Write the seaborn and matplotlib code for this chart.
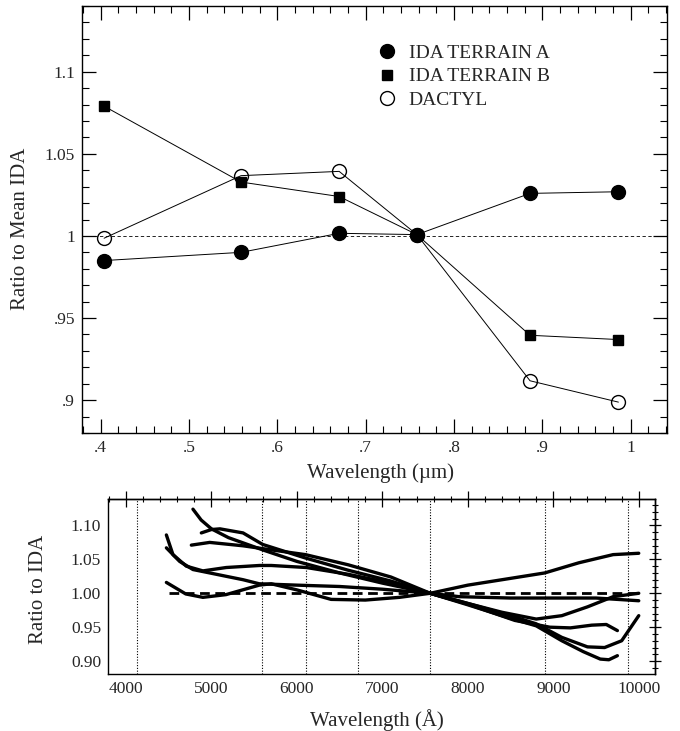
import matplotlib
matplotlib.use("Agg")
import matplotlib.pyplot as plt
from matplotlib.lines import Line2D
from matplotlib.ticker import FixedLocator, MultipleLocator
import seaborn as sns
import pandas as pd

# ---------------- data: top panel ----------------
top_wavelength = [0.404, 0.559, 0.670, 0.758, 0.886, 0.986]
terrain_a = [0.985, 0.990, 1.0016, 1.0008, 1.0259, 1.0269]
terrain_b = [1.079, 1.0328, 1.024, 1.0008, 0.9395, 0.9369]
dactyl = [0.9986, 1.0367, 1.0393, 1.0008, 0.9118, 0.8988]
top_labels = ["IDA TERRAIN A", "IDA TERRAIN B", "DACTYL"]
top_xticks = [0.4, 0.5, 0.6, 0.7, 0.8, 0.9, 1.0]
top_xticklabels = [".4", ".5", ".6", ".7", ".8", ".9", "1"]
top_yticks = [0.9, 0.95, 1.0, 1.05, 1.1]
top_yticklabels = [".9", ".95", "1", "1.05", "1.1"]

# ---------------- data: bottom panel ----------------
c1_w = [4784, 4880, 5000, 5200, 5600, 6000, 6500, 7000, 7560, 8000, 8500, 8800, 9100, 9350, 9550, 9650, 9750]
c1_r = [1.124, 1.108, 1.095, 1.082, 1.064, 1.047, 1.030, 1.015, 1.0, 0.983, 0.963, 0.952, 0.930, 0.914, 0.903, 0.902, 0.908]
c2_w = [4882, 5000, 5100, 5370, 5600, 6100, 6600, 7100, 7560, 8000, 8500, 8800, 9100, 9400, 9600, 9800, 10000]
c2_r = [1.089, 1.094, 1.095, 1.089, 1.072, 1.052, 1.034, 1.018, 1.0, 0.985, 0.967, 0.955, 0.935, 0.921, 0.920, 0.930, 0.967]
c3_w = [4765, 4980, 5370, 5700, 6100, 6600, 7100, 7560, 8000, 8550, 8960, 9200, 9450, 9620, 9750]
c3_r = [1.071, 1.075, 1.070, 1.064, 1.057, 1.042, 1.024, 1.0, 0.984, 0.960, 0.950, 0.949, 0.953, 0.954, 0.945]
c4_w = [4473, 4550, 4706, 4900, 5174, 5564, 5700, 6110, 6600, 7100, 7560, 8000, 8400, 8800, 9100, 9400, 9700, 10000]
c4_r = [1.086, 1.057, 1.040, 1.033, 1.038, 1.041, 1.041, 1.038, 1.028, 1.015, 1.0, 0.985, 0.972, 0.962, 0.967, 0.980, 0.995, 1.0]
c5_w = [4473, 4628, 4784, 4980, 5174, 5370, 5560, 6000, 6500, 7000, 7560, 7900, 8500, 9500, 10000]
c5_r = [1.067, 1.047, 1.035, 1.030, 1.025, 1.020, 1.014, 1.012, 1.010, 1.006, 1.0, 0.995, 0.993, 0.993, 0.989]
c6_w = [4473, 4700, 4900, 5170, 5560, 5700, 6000, 6400, 6800, 7200, 7560, 8000, 8500, 8900, 9300, 9700, 10000]
c6_r = [1.016, 0.999, 0.994, 0.998, 1.012, 1.014, 1.005, 0.991, 0.990, 0.994, 1.0, 1.012, 1.022, 1.030, 1.045, 1.057, 1.059]
ref_w = [4500, 10000]
ref_r = [1.0, 1.0]
filter_w = [4130, 5590, 6110, 6720, 7560, 8900, 9870]
bot_xticks = [4000, 5000, 6000, 7000, 8000, 9000, 10000]
bot_xticklabels = ["4000", "5000", "6000", "7000", "8000", "9000", "10000"]
bot_yticks = [0.90, 0.95, 1.00, 1.05, 1.10]
bot_yticklabels = ["0.90", "0.95", "1.00", "1.05", "1.10"]

# ---------------- style ----------------
sns.set_style("white")
plt.rcParams["font.family"] = ["Liberation Serif", "DejaVu Serif"]
plt.rcParams["axes.edgecolor"] = "black"
plt.rcParams["axes.linewidth"] = 1.0

fig = plt.figure(figsize=(6.8, 7.31), dpi=100)

# ---------------- top panel ----------------
ax1 = fig.add_axes([82 / 680, 1 - 433 / 731, 585 / 680, 427 / 731])
ax1.axhline(1.0, color="black", lw=0.6, ls=(0, (4, 3)))
series = [
    (terrain_a, "o", 10, "black"),
    (terrain_b, "s", 7, "black"),
    (dactyl, "o", 10, "none"),
]
for vals, mk, ms, fc in series:
    df = pd.DataFrame({"w": top_wavelength, "r": vals})
    sns.lineplot(data=df, x="w", y="r", ax=ax1, color="black", lw=0.7,
                 marker=mk, markersize=ms, markerfacecolor=fc,
                 markeredgecolor="black", markeredgewidth=1.0,
                 estimator=None, sort=False)
ax1.set_xlim(0.379, 1.041)
ax1.set_ylim(0.88, 1.14)
ax1.xaxis.set_major_locator(FixedLocator(top_xticks))
ax1.set_xticklabels(top_xticklabels)
ax1.yaxis.set_major_locator(FixedLocator(top_yticks))
ax1.set_yticklabels(top_yticklabels)
ax1.xaxis.set_minor_locator(MultipleLocator(0.02))
ax1.yaxis.set_minor_locator(MultipleLocator(0.01))
ax1.tick_params(which="both", direction="in", top=True, right=True,
                bottom=True, left=True, color="black", labelsize=12.5)
ax1.tick_params(which="major", length=10, width=0.9, pad=5)
ax1.tick_params(which="minor", length=5, width=0.8)
ax1.set_xlabel("Wavelength (\u00b5m)", fontsize=15)
ax1.set_ylabel("Ratio to Mean IDA", fontsize=15)
ax1.xaxis.set_label_coords(0.511, -0.072)
ax1.yaxis.set_label_coords(-0.089, 0.478)

handles = [
    Line2D([], [], ls="none", marker="o", markersize=10, color="black"),
    Line2D([], [], ls="none", marker="s", markersize=7, color="black"),
    Line2D([], [], ls="none", marker="o", markersize=10, markerfacecolor="none",
           markeredgecolor="black"),
]
ax1.legend(handles, top_labels, loc="upper left", bbox_to_anchor=(0.505, 0.91),
           frameon=False, fontsize=14, handlelength=1.0, handletextpad=0.6,
           labelspacing=0.3, borderpad=0, borderaxespad=0)

# ---------------- bottom panel ----------------
ax2 = fig.add_axes([108 / 680, 1 - 674 / 731, 547 / 680, 175 / 731])
for fw in filter_w:
    ax2.axvline(fw, color="black", lw=0.8, ls=(0, (1, 1.5)))
sns.lineplot(x=ref_w, y=ref_r, ax=ax2, color="black", lw=2.0,
             ls=(0, (3.5, 2)), estimator=None, sort=False)
for cw, cr in [(c1_w, c1_r), (c2_w, c2_r), (c3_w, c3_r),
               (c4_w, c4_r), (c5_w, c5_r), (c6_w, c6_r)]:
    sns.lineplot(x=cw, y=cr, ax=ax2, color="black", lw=2.4,
                 estimator=None, sort=False, solid_joinstyle="round",
                 solid_capstyle="round")
ax2.set_xlim(3790, 10190)
ax2.set_ylim(0.881, 1.139)
ax2.xaxis.set_major_locator(FixedLocator(bot_xticks))
ax2.set_xticklabels(bot_xticklabels)
ax2.yaxis.set_major_locator(FixedLocator(bot_yticks))
ax2.set_yticklabels(bot_yticklabels)
ax2.xaxis.set_minor_locator(MultipleLocator(200))
ax2.yaxis.set_minor_locator(MultipleLocator(0.01))
ax2.tick_params(which="both", direction="in", color="black", labelsize=12.5)
ax2.tick_params(which="major", length=7, width=0.9, pad=5)
ax2.tick_params(which="minor", length=3.5, width=0.8)
sec_top = ax2.secondary_xaxis("top")
sec_top.xaxis.set_major_locator(FixedLocator(bot_xticks))
sec_top.xaxis.set_minor_locator(MultipleLocator(200))
sec_top.tick_params(which="both", direction="inout", labeltop=False, color="black")
sec_top.tick_params(which="major", length=11, width=0.9)
sec_top.tick_params(which="minor", length=5, width=0.8)
sec_right = ax2.secondary_yaxis("right")
sec_right.yaxis.set_major_locator(FixedLocator(bot_yticks))
sec_right.yaxis.set_minor_locator(MultipleLocator(0.01))
sec_right.tick_params(which="both", direction="inout", labelright=False, color="black")
sec_right.tick_params(which="major", length=9, width=0.9)
sec_right.tick_params(which="minor", length=5, width=0.8)
ax2.set_xlabel("Wavelength (\u00c5)", fontsize=15)
ax2.set_ylabel("Ratio to IDA", fontsize=15)
ax2.xaxis.set_label_coords(0.492, -0.2)
ax2.yaxis.set_label_coords(-0.11, 0.486)

fig.savefig("out.png", dpi=100)
